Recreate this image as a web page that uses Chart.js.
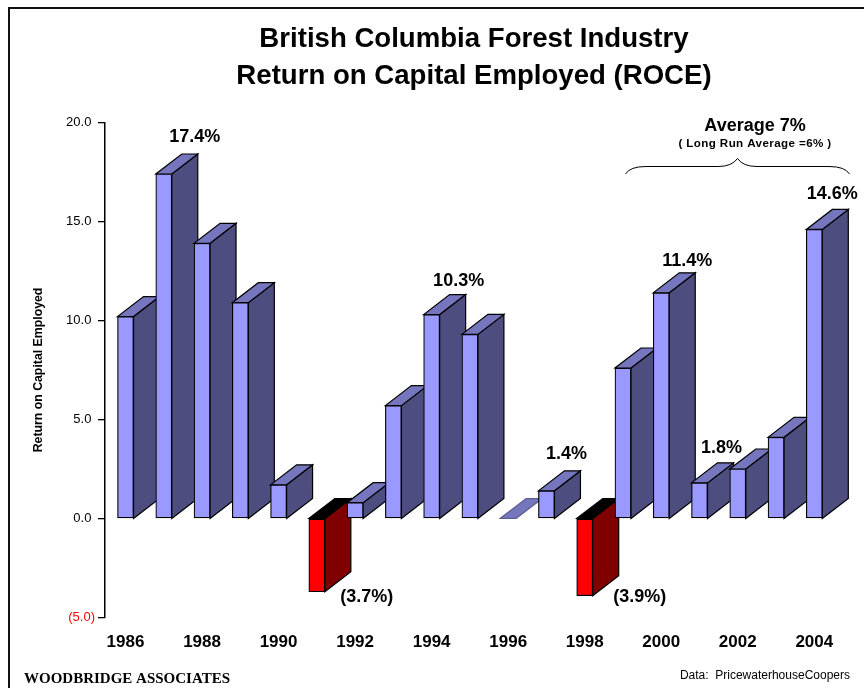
<!DOCTYPE html>
<html>
<head>
<meta charset="utf-8">
<title>British Columbia Forest Industry ROCE</title>
<script src="https://cdn.jsdelivr.net/npm/chart.js@4"></script>
<style>
    html, body { margin: 0; padding: 0; background: #fff; }
    canvas { display: block; }
</style>
</head>
<body>
<canvas id="roceChart" width="864" height="688"></canvas>
<script>
// Data
const years = [1986, 1987, 1988, 1989, 1990, 1991, 1992, 1993, 1994, 1995, 1996, 1997, 1998, 1999, 2000, 2001, 2002, 2003, 2004];
const roce = [10.2, 17.4, 13.9, 10.9, 1.7, -3.7, 0.8, 5.7, 10.3, 9.3, 0, 1.4, -3.9, 7.6, 11.4, 1.8, 2.5, 4.1, 14.6];
const yearTicks = [1986, 1988, 1990, 1992, 1994, 1996, 1998, 2000, 2002, 2004];
const labelledYears = [1987, 1991, 1994, 1997, 1998, 2000, 2001, 2004];

const titleLines = ['British Columbia Forest Industry', 'Return on Capital Employed (ROCE)'];
const font = "'Liberation Sans', Arial, sans-serif";

// Depth of the fake 3D boxes
const depthX = 26;
const depthY = 20;

// Where each value label sits, relative to its bar
const labelOffsets = {
    1987: [31, -37], 1991: [50, 5], 1994: [27, -34], 1997: [20, -37],
    1998: [55, 1], 2000: [26, -32], 2001: [22, -35], 2004: [18, -35]
};

function pct(v) {
    return v < 0 ? '(' + Math.abs(v).toFixed(1) + '%)' : v.toFixed(1) + '%';
}

function face(ctx, pts, fill, stroke) {
    ctx.beginPath();
    pts.forEach((p, i) => i ? ctx.lineTo(p[0], p[1]) : ctx.moveTo(p[0], p[1]));
    ctx.closePath();
    ctx.fillStyle = fill;
    ctx.fill();
    ctx.lineWidth = 1.2;
    ctx.strokeStyle = stroke;
    ctx.stroke();
}

function text(ctx, str, x, y, fontStr, align, color) {
    ctx.font = fontStr;
    ctx.textAlign = align || 'center';
    ctx.textBaseline = 'middle';
    ctx.fillStyle = color || '#000';
    ctx.fillText(str, x, y);
}

// Side and top faces go under the fronts, which the library draws
const boxSides = {
    id: 'boxSides',
    beforeDatasetsDraw(chart) {
        const ctx = chart.ctx;
        const zero = chart.scales.y.getPixelForValue(0);
        ctx.save();
        chart.getDatasetMeta(0).data.forEach((bar, i) => {
            const left = bar.x - bar.width / 2;
            const right = bar.x + bar.width / 2;
            const end = bar.y;
            const top = Math.min(zero, end);
            const bottom = Math.max(zero, end);
            const neg = roce[i] < 0;
            if (roce[i] === 0) {
                face(ctx, [[left, top], [right, top], [right + depthX, top - depthY], [left + depthX, top - depthY]], '#7676BE', '#5A5A90');
                return;
            }
            face(ctx, [[right, top], [right + depthX, top - depthY], [right + depthX, bottom - depthY], [right, bottom]],
                neg ? '#800000' : '#4D4D80', '#000');
            face(ctx, [[left, top], [right, top], [right + depthX, top - depthY], [left + depthX, top - depthY]],
                neg ? '#000' : '#7676BE', '#000');
        });
        ctx.restore();
    }
};

// Frame, titles, value labels, bracket and footers
const annotations = {
    id: 'annotations',
    afterDraw(chart) {
        const ctx = chart.ctx;
        const x = chart.scales.x;
        const y = chart.scales.y;
        ctx.save();

        ctx.strokeStyle = '#111';
        ctx.lineWidth = 2;
        ctx.beginPath();
        ctx.moveTo(9, 688);
        ctx.lineTo(9, 8);
        ctx.lineTo(864, 8);
        ctx.stroke();

        text(ctx, titleLines[0], 474, 39, 'bold 27.6px ' + font);
        text(ctx, titleLines[1], 474, 76, 'bold 27.6px ' + font);

        labelledYears.forEach(year => {
            const v = roce[years.indexOf(year)];
            const off = labelOffsets[year];
            text(ctx, pct(v), x.getPixelForValue(year) + off[0], y.getPixelForValue(v) + off[1], 'bold 18px ' + font);
        });

        text(ctx, 'Average 7%', 755, 126, 'bold 18px ' + font);
        ctx.letterSpacing = '0.4px';
        text(ctx, '( Long Run Average =6% )', 755, 144, 'bold 11.6px ' + font);
        ctx.letterSpacing = '0px';

        // curly bracket over the last years
        ctx.strokeStyle = '#000';
        ctx.lineWidth = 1;
        ctx.beginPath();
        ctx.moveTo(625.5, 174);
        ctx.quadraticCurveTo(630, 166.5, 646, 166.5);
        ctx.lineTo(718, 166.5);
        ctx.quadraticCurveTo(732, 166.5, 737.5, 158.5);
        ctx.quadraticCurveTo(743, 166.5, 757, 166.5);
        ctx.lineTo(829, 166.5);
        ctx.quadraticCurveTo(845, 166.5, 849.5, 174);
        ctx.stroke();

        text(ctx, 'WOODBRIDGE ASSOCIATES', 24, 679, "bold 15px 'Liberation Serif', 'Times New Roman', serif", 'left');
        text(ctx, 'Data:  PricewaterhouseCoopers', 850, 676, '12px ' + font, 'right');
        ctx.restore();
    }
};

const roceChart = new Chart(document.getElementById('roceChart').getContext('2d'), {
    type: 'bar',
    data: {
        datasets: [{
            data: years.map((year, i) => ({ x: year, y: roce[i] })),
            backgroundColor: ctx => (ctx.raw.y < 0 ? '#FF0000' : '#9999FF'),
            borderColor: '#000',
            borderWidth: 1.2,
            borderSkipped: false,
            barThickness: 16
        }]
    },
    options: {
        responsive: false,
        animation: false,
        layout: { padding: { left: 0, right: 32, top: 122.5, bottom: 10.5 } },
        plugins: {
            legend: { display: false },
            title: { display: false },
            tooltip: { enabled: false }
        },
        scales: {
            x: {
                type: 'linear',
                offset: false,
                min: 1985.464,
                max: 2004.4625,
                afterBuildTicks: scale => { scale.ticks = yearTicks.map(value => ({ value })); },
                afterFit: scale => { scale.height = 60; },
                grid: { display: false, offset: false },
                border: { display: false },
                ticks: {
                    autoSkip: false,
                    maxRotation: 0,
                    padding: 7,
                    color: '#000',
                    font: { family: font, size: 17, weight: 'bold' },
                    callback: v => String(v)
                }
            },
            y: {
                min: -5,
                max: 20,
                afterFit: scale => { scale.width = 105; },
                grid: { drawOnChartArea: false, color: '#000', tickLength: 7, lineWidth: 1.3 },
                border: { color: '#000', width: 1.5 },
                title: {
                    display: true,
                    text: 'Return on Capital Employed',
                    color: '#000',
                    font: { family: font, size: 12.3, weight: 'bold' },
                    padding: { top: 31, bottom: 0 }
                },
                ticks: {
                    stepSize: 5,
                    padding: 3,
                    color: ctx => (ctx.tick.value < 0 ? '#FF0000' : '#000'),
                    font: { family: font, size: 13 },
                    callback: v => (v < 0 ? '(' + Math.abs(v).toFixed(1) + ')' : v.toFixed(1) + ' ')
                }
            }
        }
    },
    plugins: [boxSides, annotations]
});
</script>
</body>
</html>
